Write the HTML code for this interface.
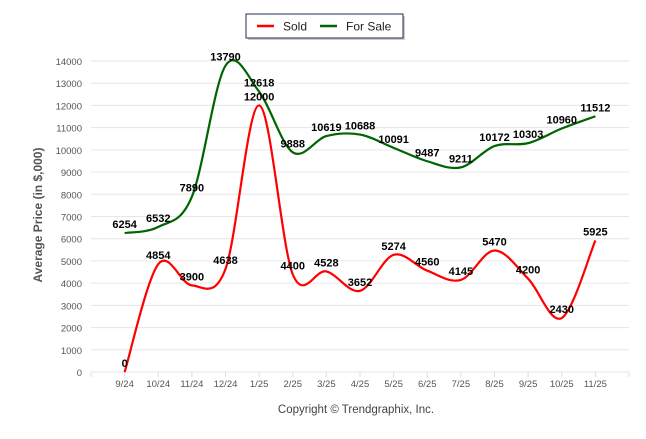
<!DOCTYPE html>
<html><head><meta charset="utf-8"><style>
body{margin:0;background:#fff;width:646px;height:434px;overflow:hidden;font-family:"Liberation Sans",sans-serif}
</style></head><body>
<svg id="c" width="646" height="434" xmlns="http://www.w3.org/2000/svg">
<g>
<rect x="248" y="16" width="157" height="24" fill="#999" opacity="0.5"/>
<rect x="246" y="14" width="157" height="24" fill="#fff" stroke="#1f2d4f" stroke-width="1"/>
<line x1="257" y1="26" x2="274" y2="26" stroke="#f00" stroke-width="2.5"/>
<text x="283" y="30.5" font-size="12" fill="#222">Sold</text>
<line x1="320" y1="26" x2="337" y2="26" stroke="#006400" stroke-width="2.5"/>
<text x="346" y="30.5" font-size="12" fill="#222">For Sale</text>
</g>
<text transform="translate(42,215) rotate(-90)" text-anchor="middle" font-size="12" font-weight="bold" fill="#555">Average Price (in $,000)</text>
<text x="356" y="413" text-anchor="middle" font-size="11.5" fill="#444">Copyright © Trendgraphix, Inc.</text>
<g id="grid"></g><g id="lines"></g><g id="labels"></g>
</svg>
<script>
const categories=["9/24","10/24","11/24","12/24","1/25","2/25","3/25","4/25","5/25","6/25","7/25","8/25","9/25","10/25","11/25"];
const sold=[0,4854,3900,4638,12000,4400,4528,3652,5274,4560,4145,5470,4200,2430,5925];
const forSale=[6254,6532,7890,13790,12618,9888,10619,10688,10091,9487,9211,10172,10303,10960,11512];
const yTicks=[0,1000,2000,3000,4000,5000,6000,7000,8000,9000,10000,11000,12000,13000,14000];
const NS="http://www.w3.org/2000/svg";
const L=91,R=629,Y0=372,Y14=61;
const step=(R-L)/(categories.length+1);
const xs=i=>L+step*(i+1);
const ys=v=>Y0-(v/14000)*(Y0-Y14);
const grid=document.getElementById('grid'),lines=document.getElementById('lines'),labels=document.getElementById('labels');
function mk(tag,attrs,parent){const e=document.createElementNS(NS,tag);for(const k in attrs)e.setAttribute(k,attrs[k]);parent.appendChild(e);return e;}
yTicks.forEach(t=>{
 const g=mk('line',{x1:L,x2:R,y1:ys(t),y2:ys(t),stroke:'#e6e6e6','stroke-width':1},grid);
 
 
 const tx=mk('text',{x:82,y:ys(t)+4,'text-anchor':'end','font-size':'9.5',fill:'#555'},grid);
 tx.textContent=t;
 
 
});
for(let i=0;i<=categories.length+1;i++){
 const x=L+step*i;
 const tk=mk('line',{x1:x,x2:x,y1:Y0,y2:Y0+5,stroke:'#ddd'},grid);
 
 
}
categories.forEach((c,i)=>{
 const tx=mk('text',{x:xs(i),y:387,'text-anchor':'middle','font-size':'9.5',fill:'#555'},grid);
 tx.textContent=c;
 
 
});
function path(vals){
 const p=vals.map((v,i)=>[xs(i),ys(v)]);
 let d=`M${p[0][0]},${p[0][1]}`;
 for(let i=0;i<p.length-1;i++){
  const p0=p[i-1]||p[i],p1=p[i],p2=p[i+1],p3=p[i+2]||p2;
  const t=0.5/3*2;
  const c1=[p1[0]+(p2[0]-p0[0])*t/2,p1[1]+(p2[1]-p0[1])*t/2];
  const c2=[p2[0]-(p3[0]-p1[0])*t/2,p2[1]-(p3[1]-p1[1])*t/2];
  d+=`C${c1[0]},${c1[1]} ${c2[0]},${c2[1]} ${p2[0]},${p2[1]}`;
 }
 return d;
}
const fs=mk('path',{d:path(forSale),fill:'none',stroke:'#006400','stroke-width':2.2},lines);


const sl=mk('path',{d:path(sold),fill:'none',stroke:'#f00','stroke-width':2.2},lines);


function lab(vals,name){
 vals.forEach((v,i)=>{
  const t=mk('text',{x:xs(i),y:ys(v)-5,'text-anchor':'middle','font-size':'11','font-weight':'bold',fill:'#000'},labels);
  t.textContent=v;
  
  
 });
}
lab(sold,'sold-value-label');
lab(forSale,'for-sale-value-label');
</script>
</body></html>
